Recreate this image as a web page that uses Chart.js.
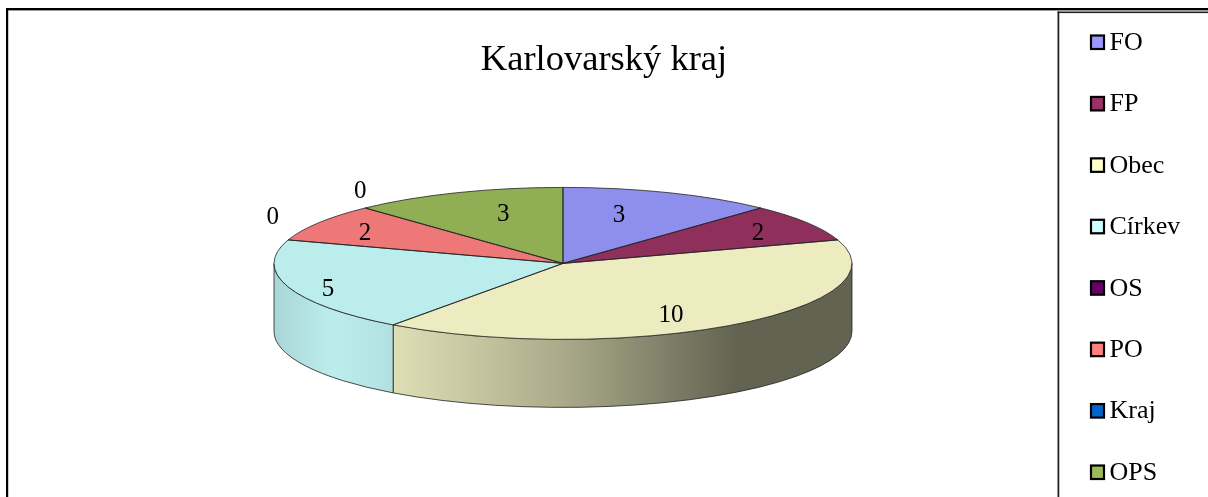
<!DOCTYPE html>
<html>
<head>
<meta charset="utf-8">
<style>html,body{margin:0;padding:0;background:#fff}canvas{display:block}</style>
<script src="https://cdn.jsdelivr.net/npm/chart.js@4"></script>
</head>
<body>
<canvas id="c" width="1208" height="497"></canvas>
<script>
const categories = ['FO','FP','Obec','Církev','OS','PO','Kraj','OPS'];
const values = [3,2,10,5,0,2,0,3];
const chartTitle = 'Karlovarský kraj';
const topColors = ['#8E8EEC','#8E2F5C','#ECECC0','#BCEDED','#5F005F','#EE7878','#005FBE','#90AE53'];
const legendColors = ['#9999FF','#993366','#FFFFCC','#CCFFFF','#660066','#FF8080','#0066CC','#9BBB59'];
// label placement as a fraction of the ellipse radii, along each slice's mid angle
const labelRadiusX = [0.517,0.795,0.63,0.859,1.06,0.816,1.03,0.57];
const labelRadiusY = [0.69,0.76,0.83,1.06,2.0,0.76,1.32,0.71];
// wall shading by horizontal position across the pie (-1 = left edge, 1 = right edge)
const shadeStops = [[-1,0.90],[-0.8,1.0],[-0.6,0.95],[0,0.72],[0.6,0.42],[1,0.42]];

const RX = 289, RY = 76, DEPTH = 68, PIE_SHIFT = -41, SERIF = '"Liberation Serif","Times New Roman",serif';

function rgb(hex){return [1,3,5].map(i=>parseInt(hex.substr(i,2),16));}
function arcs(chart){return chart.getDatasetMeta(0).data;}

const pie3d = {
  id:'pie3d',
  beforeDraw(chart){
    const c = chart.ctx;
    c.save();
    c.fillStyle='#fff'; c.fillRect(0,0,chart.width,chart.height);
    c.fillStyle='#000';
    c.fillRect(6,8,chart.width-6,2.4);
    c.fillRect(6,8,2.2,chart.height-8);
    c.fillStyle='#222';
    c.fillRect(1057.5,11.5,chart.width-1057.5,1.6);
    c.fillRect(1057.5,11.5,1.8,chart.height-11.5);
    c.restore();
    // legend
    c.save();
    c.font='26px '+SERIF; c.textBaseline='middle'; c.textAlign='left';
    categories.forEach((name,i)=>{
      const y = 42 + i*61.43;
      c.fillStyle=legendColors[i];
      c.fillRect(1091,y-6.5,13,13.5);
      c.strokeStyle='#000'; c.lineWidth=2.2;
      c.strokeRect(1091,y-6.5,13,13.5);
      c.fillStyle='#000';
      c.fillText(name,1109.5,y+1);
    });
    c.restore();
  },
  beforeDatasetsDraw(chart){
    const c = chart.ctx, list = arcs(chart), cx = list[0].x + PIE_SHIFT, cy = list[0].y, R = list[0].outerRadius;
    // side wall
    list.forEach((el,i)=>{
      const a = Math.max(el.startAngle,0), b = Math.min(el.endAngle,Math.PI);
      if(b<=a) return;
      const g = c.createLinearGradient(cx-RX,0,cx+RX,0), base = rgb(topColors[i]);
      shadeStops.forEach(([p,s])=>g.addColorStop((p+1)/2,`rgb(${base.map(v=>Math.round(v*s)).join(',')})`));
      c.beginPath();
      c.ellipse(cx,cy,RX,RY,0,a,b);
      c.ellipse(cx,cy+DEPTH,RX,RY,0,b,a,true);
      c.closePath();
      c.fillStyle=g; c.fill();
      c.strokeStyle='#222'; c.lineWidth=0.8; c.stroke();
    });
    // squash the library's circular pie into the top ellipse
    c.save();
    c.translate(cx,cy); c.scale(RX/R,RY/R); c.translate(-list[0].x,-list[0].y);
  },
  afterDatasetsDraw(chart){
    const c = chart.ctx, list = arcs(chart), cx = list[0].x + PIE_SHIFT, cy = list[0].y;
    c.restore();
    list.forEach(el=>{
      if(el.endAngle-el.startAngle<=0) return;
      c.beginPath();
      c.moveTo(cx,cy);
      c.ellipse(cx,cy,RX,RY,0,el.startAngle,el.endAngle);
      c.closePath();
      c.strokeStyle='#222'; c.lineWidth=0.8; c.stroke();
    });
    c.save();
    c.font='25px '+SERIF; c.fillStyle='#000'; c.textAlign='center'; c.textBaseline='middle';
    list.forEach((el,i)=>{
      const mid=(el.startAngle+el.endAngle)/2;
      c.fillText(String(values[i]),cx+1+RX*labelRadiusX[i]*Math.cos(mid),cy+1+RY*labelRadiusY[i]*Math.sin(mid));
    });
    c.restore();
  }
};

new Chart(document.getElementById('c'),{
  type:'pie',
  data:{labels:categories,datasets:[{data:values,backgroundColor:topColors,borderWidth:0,clip:false}]},
  plugins:[pie3d],
  options:{
    responsive:false,animation:false,
    layout:{padding:{left:0,right:0,top:0,bottom:53}},
    plugins:{
      legend:{display:false},
      tooltip:{enabled:false},
      title:{display:true,text:chartTitle,color:'#000',
        font:{family:SERIF,size:36.5,weight:'normal',lineHeight:1.2},
        padding:{top:39,bottom:0}}
    }
  }
});
</script>
</body>
</html>
